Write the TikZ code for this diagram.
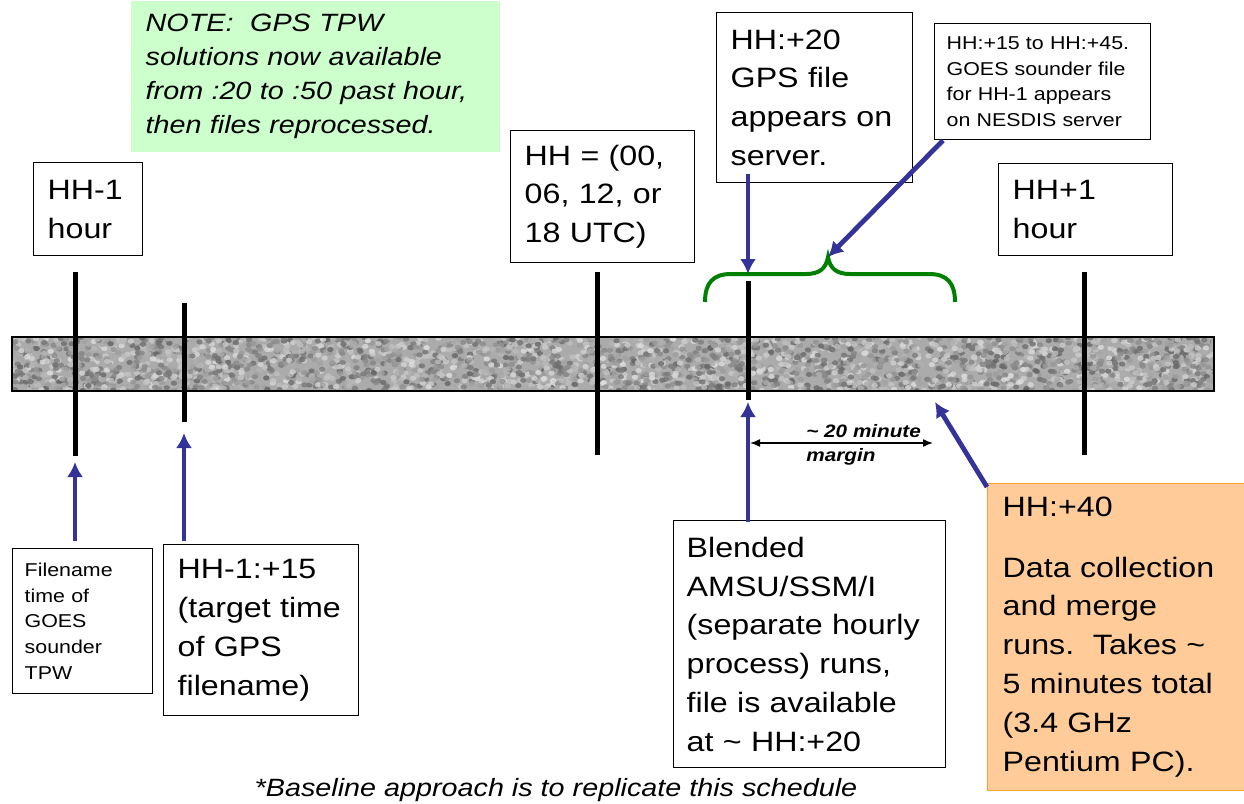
\documentclass[tikz,border=0pt]{standalone}
\usepackage{fontspec}
\setmainfont{Liberation Sans}[FakeStretch=1.15]
\usepackage{tikz}
\usetikzlibrary{arrows.meta}
\usepackage{xcolor}
\definecolor{arrowblue}{RGB}{51,51,153}
\definecolor{bracegreen}{RGB}{0,128,0}
\definecolor{notegreen}{RGB}{204,255,204}
\definecolor{runorange}{RGB}{255,204,153}
\definecolor{runborder}{RGB}{250,160,50}

\begin{document}
\begin{tikzpicture}[x=0.5pt, y=-0.5pt,
  box/.style = {draw, line width=0.7pt, anchor=north west, align=left, inner ysep=0pt, font=\fontsize{14}{19.4}\selectfont},
  small/.style = {box, font=\fontsize{9.3}{12.8}\selectfont},
  tick/.style = {line width=2.5pt},
  pointer/.style = {draw=arrowblue, line width=2.4pt, -{Latex[length=7.5pt,width=8pt]}},
  span/.style = {line width=0.75pt, {Latex[length=5pt,width=4pt]}-{Latex[length=5pt,width=4pt]}},
  gap/.style = {font=\bfseries\itshape\fontsize{9}{10}\selectfont, anchor=base west, inner sep=0pt}]
\useasboundingbox (0,0) rectangle (1244,804);

% speckled time bar
\begin{scope}
  \clip (12,337) rectangle (1214,391);
  \fill[black!33] (12,337) rectangle (1214,391);
  \pgfmathsetseed{804}
  \foreach \i in {1,...,3000}{
    \pgfmathsetmacro{\px}{12+1202*rnd}
    \pgfmathsetmacro{\py}{337+54*rnd}
    \pgfmathsetmacro{\pk}{int(12+50*rnd)}
    \fill[black!\pk, opacity=0.8] (\px,\py) ellipse (3.2 and 2.6);
  }
\end{scope}
\draw[line width=0.6pt] (12,337) rectangle (1214,391);

\foreach \n/\x/\a/\b in {1/75/272/456, 2/184/303/422, 3/597/272/455, 4/748/281/400, 5/1084/272/455}{
  \coordinate (top\n) at (\x,\a);
  \coordinate (bot\n) at (\x,\b);
  \draw[tick] (top\n) -- (bot\n);
}

\coordinate (brace) at (828,257);
\draw[bracegreen, line width=2pt] (705,302) .. controls (705,283) and (713,274) .. (731,274) -- (806,274)
  .. controls (820,274) and (826,268) .. (brace) .. controls (830,268) and (836,274) .. (850,274)
  -- (929,274) .. controls (947,274) and (955,283) .. (955,302);

\node[box, draw=none, fill=notegreen, font=\itshape\fontsize{12.5}{17}\selectfont, minimum height=75.5pt, text width=169.5pt, inner xsep=7.5pt] (note) at (130,0) {NOTE:\ \ GPS TPW\\solutions now available\\from :20 to :50 past hour,\\then files reprocessed.};
\node[box, minimum height=46.5pt, text width=40.5pt, inner xsep=7pt] (hhm1) at (33,162) {HH-1\\hour};
\node[box, minimum height=66pt, text width=78pt, inner xsep=7pt] (hh) at (510,130) {HH = (00,\\06, 12, or\\18 UTC)};
\node[box, minimum height=85pt, text width=84pt, inner xsep=7pt] (gps) at (716,12) {HH:+20\\GPS file\\appears on\\server.};
\node[small, minimum height=58pt, text width=96pt, inner xsep=6pt] (goes) at (934,23) {HH:+15 to HH:+45.\\GOES sounder file\\for HH-1 appears\\on NESDIS server};
\node[box, minimum height=46pt, text width=73pt, inner xsep=7pt] (hhp1) at (998,163) {HH+1\\hour};
\node[small, minimum height=72.5pt, text width=58pt, inner xsep=6pt] (fname) at (12,548) {Filename\\time of\\GOES\\sounder\\TPW};
\node[box, minimum height=85.5pt, text width=83.5pt, inner xsep=7pt] (hhm115) at (163,544) {HH-1:+15\\(target time\\of GPS\\filename)};
\node[box, minimum height=123.5pt, text width=123pt, inner xsep=6.5pt] (blend) at (673,520) {Blended\\AMSU/SSM/I\\(separate hourly\\process) runs,\\file is available\\at \textasciitilde{} HH:+20};
\node[box, draw=runborder, fill=runorange, minimum height=153.5pt, text width=121.5pt, inner xsep=7.5pt] (run) at (987,483) {HH:+40\\[10.7pt]Data collection\\and merge\\runs.\ \ Takes \textasciitilde\\5 minutes total\\(3.4 GHz\\Pentium PC).};

\coordinate (mgL) at (750,443);
\coordinate (mgR) at (933,443);
\coordinate (runtip) at (935,402);
\draw[span] (mgL) -- (mgR);
\node[gap] (mg1) at (806,437) {\textasciitilde{} 20 minute};
\node[gap] (mg2) at (806,461) {margin};

\draw[pointer, shorten <=3.5pt, shorten >=3pt] (bot1 |- fname.north) -- (bot1);
\draw[pointer, shorten <=1.5pt, shorten >=5.5pt] (bot2 |- hhm115.north) -- (bot2);
\draw[pointer, shorten <=-4.5pt, shorten >=3.5pt] (top4 |- gps.south) -- (top4);
\draw[pointer] ([xshift=4.5pt]goes.south west) -- (brace);
\draw[pointer, shorten <=-1pt, shorten >=1pt] (bot4 |- blend.north) -- (bot4);
\draw[pointer] ([yshift=-2pt]run.north west) -- (runtip);

\node[font=\itshape\fontsize{12.5}{15}\selectfont, anchor=base] (caption) at (556,796) {*Baseline approach is to replicate this schedule};
\end{tikzpicture}
\end{document}
